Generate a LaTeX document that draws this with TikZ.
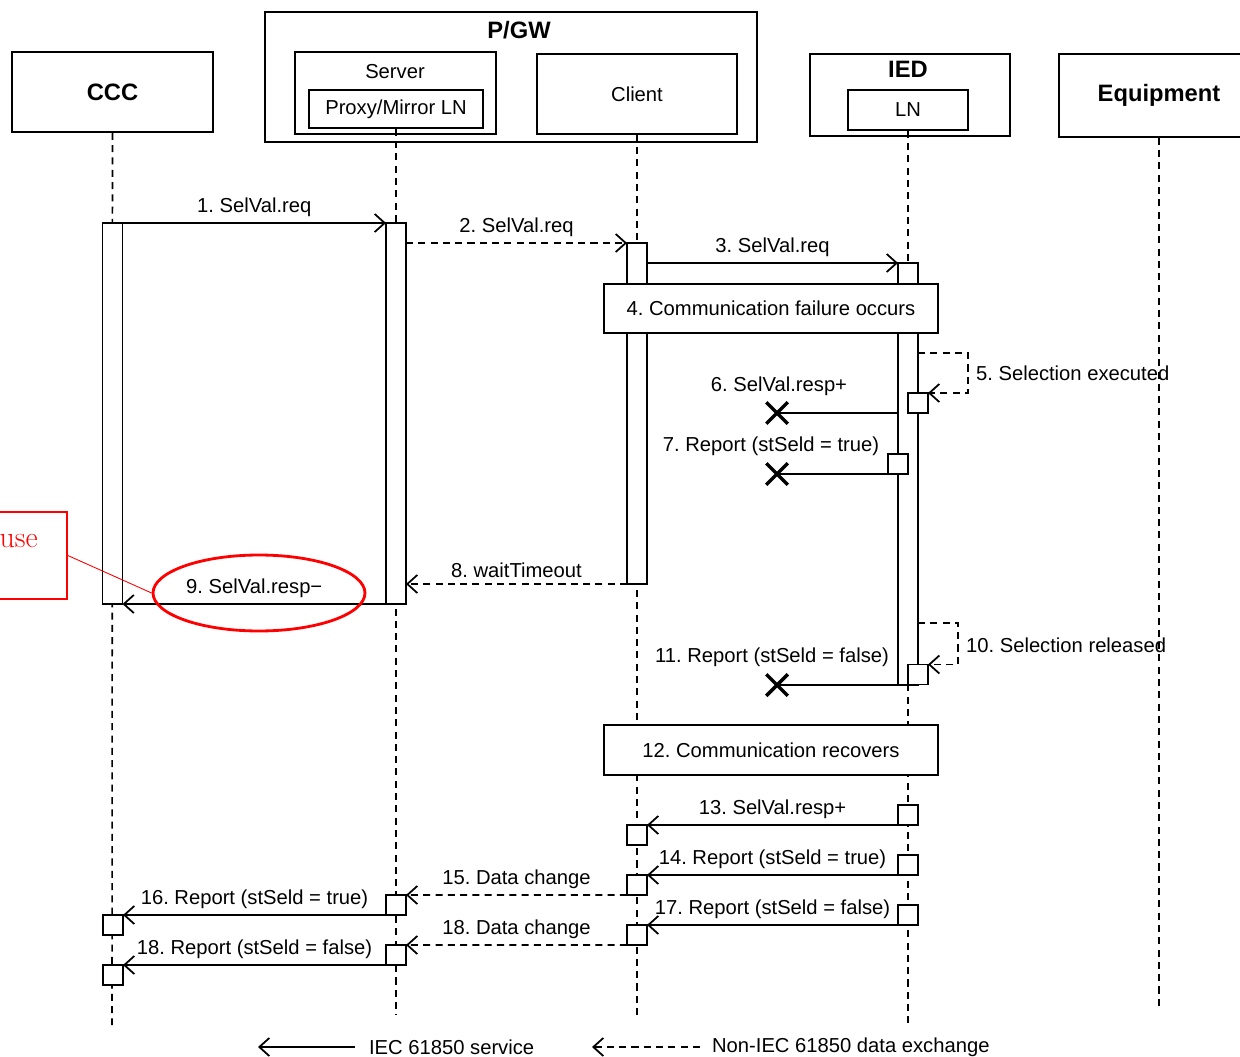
\documentclass[tikz,border=0pt]{standalone}
\usepackage{fontspec}
\setmainfont{Liberation Sans}
\usetikzlibrary{arrows.meta, positioning, shapes.geometric, shapes.misc}
\frenchspacing

\newcommand\msgfont{\fontsize{11.5}{13}\selectfont}
\newcommand\hdrfont{\fontsize{13.5}{15}\selectfont\bfseries}

\tikzset{
  hdr/.style={draw, line width=1pt, inner sep=0pt},
  actbar/.style={draw, fill=white, line width=1pt, minimum width=0.4cm, inner sep=0pt, outer sep=0pt},
  sbox/.style={draw, fill=white, line width=1pt, minimum size=0.4cm, inner sep=0pt, outer sep=0pt},
  event/.style={draw, fill=white, line width=1pt, minimum width=6.68cm, minimum height=0.99cm, font=\msgfont},
  lifeline/.style={line width=0.9pt, dash pattern=on 4pt off 3pt},
  msg/.style={line width=1pt, -{Straight Barb[length=2mm, width=3.6mm]}},
  dmsg/.style={msg, dash pattern=on 4pt off 3pt},
  lbl/.style={font=\msgfont, inner sep=1pt},
  lost/.style={draw, cross out, line width=2pt, minimum size=0.36cm, inner sep=0pt},
}

\begin{document}
\begin{tikzpicture}[x=0.02cm, y=-0.02cm]
  \useasboundingbox (0,0) rectangle (1240,1057);

  % headers
  \node[hdr, minimum width=4.02cm, minimum height=1.6cm, font=\hdrfont] (ccc) at (112.5,92) {CCC};
  \node[hdr, minimum width=9.84cm, minimum height=2.6cm] (pgw) at (511,77) {};
  \node[font=\hdrfont] (pgwtxt) at (519,30) {P/GW};
  \node[hdr, minimum width=4.02cm, minimum height=1.64cm] (server) at (395.5,93) {};
  \node[font=\msgfont] (servertxt) at (395,72) {Server};
  \node[hdr, minimum width=3.48cm, minimum height=0.76cm, font=\msgfont] (proxy) at (396,109) {Proxy/Mirror LN};
  \node[hdr, minimum width=4cm, minimum height=1.6cm, font=\msgfont] (client) at (637,94) {Client};
  \node[hdr, minimum width=4cm, minimum height=1.64cm] (ied) at (910,95) {};
  \node[font=\hdrfont] (iedtxt) at (908,69) {IED};
  \node[hdr, minimum width=2.4cm, minimum height=0.8cm, font=\msgfont] (ln) at (908,110) {LN};
  \node[hdr, minimum width=4cm, minimum height=1.66cm, font=\hdrfont] (equip) at (1159,95.5) {Equipment};

  % lifelines
  \draw[lifeline] (ccc.south) -- (112,1025);
  \draw[lifeline] (proxy.south) -- (396,1015);
  \draw[lifeline] (client.south) -- (637,1020);
  \draw[lifeline] (ln.south) -- (908,1025);
  \draw[lifeline] (equip.south) -- (1159,1010);

  % activations
  \node[actbar, minimum height=7.62cm] (cccbar) at (112.5,413.5) {};
  \node[actbar, minimum height=7.62cm] (srvbar) at (396,413.5) {};
  \node[actbar, minimum height=6.82cm] (clibar) at (637,413.5) {};
  \node[actbar, minimum height=8.44cm] (iedbar) at (908,474) {};

  \coordinate (m1) at (0,223);
  \coordinate (m2) at (0,243);
  \coordinate (m3) at (0,263);
  \coordinate (m8) at (0,584);
  \coordinate (m9) at (0,604);

  \draw[msg] (cccbar.east |- m1) -- node[lbl, above=2pt] (l1) {1. SelVal.req} (srvbar.west |- m1);
  \draw[dmsg] (srvbar.east |- m2) -- node[lbl, above=2pt] (l2) {2. SelVal.req} (clibar.west |- m2);
  \draw[msg] (clibar.east |- m3) -- node[lbl, above=2pt] (l3) {3. SelVal.req} (iedbar.west |- m3);

  \node[event] (fail) at (771,308.5) {4. Communication failure occurs};

  % selection executed
  \node[sbox] (b5) at (918,403) {};
  \coordinate (lp5) at (968,353);
  \draw[dmsg] (iedbar.east |- lp5) -- (lp5) |- (b5.north east);
  \node[lbl, anchor=west] (l5) at (974,373) {5. Selection executed};

  \node[lost] (x6) at (777,413) {};
  \draw[line width=1pt] (iedbar.west |- x6) -- (x6.center);
  \node[lbl] (l6) at (779,386) {6. SelVal.resp+};

  \node[sbox] (b7) at (898,464) {};
  \node[lost] (x7) at (777,474) {};
  \draw[line width=1pt] (b7.south west) -- (x7.center);
  \node[lbl] (l7) at (771,446) {7. Report (stSeld = true)};

  \draw[dmsg] (clibar.west |- m8) -- node[lbl, above=2pt] (l8) {8. waitTimeout} (srvbar.east |- m8);
  \draw[msg] (srvbar.west |- m9) -- node[lbl, above=2pt] (l9) {9. SelVal.resp\textminus} (cccbar.east |- m9);

  % selection released
  \node[sbox] (b10) at (918,674.5) {};
  \coordinate (lp10) at (958,623);
  \draw[dmsg] (iedbar.east |- lp10) -- (lp10) |- (b10.north east);
  \node[lbl, anchor=west] (l10) at (964,645) {10. Selection released};

  \node[lost] (x11) at (777,685) {};
  \draw[line width=1pt] (iedbar.west |- x11) -- (x11.center);
  \node[lbl] (l11) at (772,657) {11. Report (stSeld = false)};

  \node[event] (recov) at (771,750) {12. Communication recovers};

  % after recovery
  \node[sbox] (b13i) at (908,815) {};
  \node[sbox] (b13c) at (637,835) {};
  \node[sbox] (b14i) at (908,865) {};
  \node[sbox] (b14c) at (637,885) {};
  \node[sbox] (b15s) at (396,905) {};
  \node[sbox] (b16c) at (113,925) {};
  \node[sbox] (b17i) at (908,915) {};
  \node[sbox] (b17c) at (637,935) {};
  \node[sbox] (b18s) at (396,955) {};
  \node[sbox] (b18c) at (113,975) {};

  \draw[msg] (b13i.south west) -- node[lbl, above=2pt] (l13) {13. SelVal.resp+} (b13c.north east);
  \draw[msg] (b14i.south west) -- node[lbl, above=2pt] (l14) {14. Report (stSeld = true)} (b14c.north east);
  \draw[dmsg] (b14c.south west) -- node[lbl, above=2pt] (l15) {15. Data change} (b15s.north east);
  \draw[msg] (b15s.south west) -- node[lbl, above=2pt] (l16) {16. Report (stSeld = true)} (b16c.north east);
  \draw[msg] (b17i.south west) -- node[lbl, above=2pt] (l17) {17. Report (stSeld = false)} (b17c.north east);
  \draw[dmsg] (b17c.south west) -- node[lbl, above=2pt] (l18) {18. Data change} (b18s.north east);
  \draw[msg] (b18s.south west) -- node[lbl, above=2pt] (l18b) {18. Report (stSeld = false)} (b18c.north east);

  % highlight
  \node[draw=red, ellipse, line width=1.6pt, minimum width=4.24cm, minimum height=1.52cm] (hl) at (259,593) {};
  \node[draw=red, line width=1pt, minimum width=3.34cm, minimum height=1.74cm] (note) at (-16.5,555.5) {};
  \node[text=red, font=\fontspec{Latin Modern Roman}\fontsize{17}{20}\selectfont, anchor=east, inner sep=0pt] (notetxt) at (38,541) {use};
  \draw[red, line width=0.5pt] (note.east) -- (hl.west);

  % legend
  \node[lbl, anchor=west] (leg1) at (367,1047) {IEC 61850 service};
  \node[lbl, anchor=west] (leg2) at (710,1047) {Non-IEC 61850 data exchange};
  \coordinate (leg1a) at (355,1047);
  \coordinate (leg2a) at (700,1047);
  \draw[msg] (leg1a) -- ++(-97,0);
  \draw[dmsg] (leg2a) -- ++(-108,0);
\end{tikzpicture}
\end{document}
